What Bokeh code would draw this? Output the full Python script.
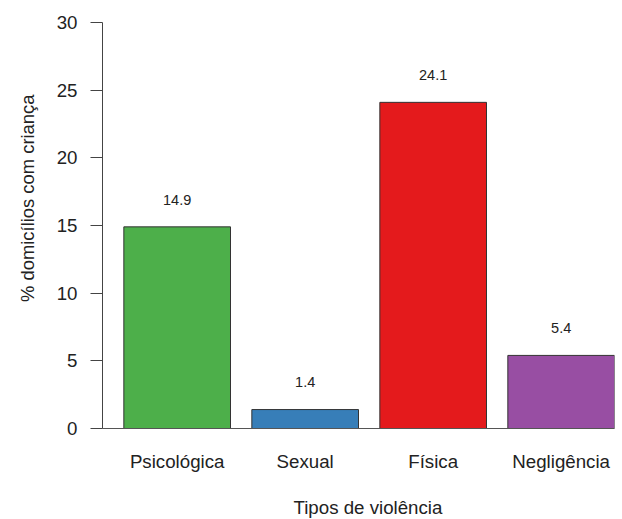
from bokeh.plotting import figure
from bokeh.models import Range1d, FixedTicker, ColumnDataSource, Title
from bokeh.core.properties import value
from bokeh.embed import file_html
from bokeh.resources import INLINE

categories = ["Psicológica", "Sexual", "Física", "Negligência"]
values = [14.9, 1.4, 24.1, 5.4]
colors = ["#4DAF4A", "#377EB8", "#E41A1C", "#984EA3"]
y_ticks = [0, 5, 10, 15, 20, 25, 30]
y_title = "% domicílios com criança"
x_title = "Tipos de violência"

FONT = "Liberation Sans"
W, H = 622, 519
FS = "18.7px"

# R barplot style positions: width 1, space 0.2
xs = [0.2 + 1.2 * i + 0.5 for i in range(len(categories))]
labels_y = [v + 2 for v in values]
src = ColumnDataSource(dict(x=xs, top=values, color=colors,
                            ly=labels_y, txt=[f"{v:.1f}" for v in values]))

p = figure(width=W, height=H, output_backend="svg", toolbar_location=None,
           x_range=Range1d(0, 4.8), y_range=Range1d(0, 30),
           min_border_left=102, min_border_right=8, min_border_top=22,
           min_border_bottom=90)
p.outline_line_color = None
p.xgrid.visible = False
p.ygrid.visible = False
p.background_fill_color = "white"

p.vbar(x="x", top="top", bottom=0, width=1.0, fill_color="color",
       line_color="#333333", line_width=1, source=src)
p.text(x="x", y="ly", text="txt", source=src, text_align="center",
       text_baseline="middle", text_font=value(FONT), text_font_size="14.5px",
       text_color="#222222")

# y axis
ya = p.yaxis[0]
ya.ticker = FixedTicker(ticks=y_ticks)
ya.major_tick_out = 12
ya.major_tick_in = 0
ya.minor_tick_out = 0
ya.minor_tick_in = 0
ya.major_label_standoff = 13
ya.major_label_text_font = FONT
ya.major_label_text_font_size = FS
ya.major_label_text_color = "#222222"
ya.axis_line_color = "#444444"
ya.major_tick_line_color = "#444444"

# x axis
xa = p.xaxis[0]
xa.ticker = FixedTicker(ticks=xs)
xa.major_label_overrides = {x: c for x, c in zip(xs, categories)}
xa.major_tick_out = 0
xa.major_tick_in = 0
xa.minor_tick_out = 0
xa.minor_tick_in = 0
xa.major_label_standoff = 22
xa.major_label_text_font = FONT
xa.major_label_text_font_size = FS
xa.major_label_text_color = "#222222"
xa.axis_line_color = "#555555"

# y title in the left panel (spacer keeps it away from the tick labels)
p.add_layout(Title(text=" ", text_font_size="1px", standoff=7), "left")
p.add_layout(Title(text=y_title, align="right", offset=72,
                   vertical_align="middle", standoff=10, text_font=FONT,
                   text_font_size="18.4px", text_font_style="normal",
                   text_color="#222222"), "left")

# x title in the bottom panel
p.add_layout(Title(text=" ", text_font_size="1px", standoff=19), "below")
p.add_layout(Title(text=x_title, align="left", offset=191,
                   vertical_align="top", standoff=0, text_font=FONT,
                   text_font_size=FS, text_font_style="normal",
                   text_color="#222222"), "below")

open("out.html", "w").write(file_html(p, INLINE))
